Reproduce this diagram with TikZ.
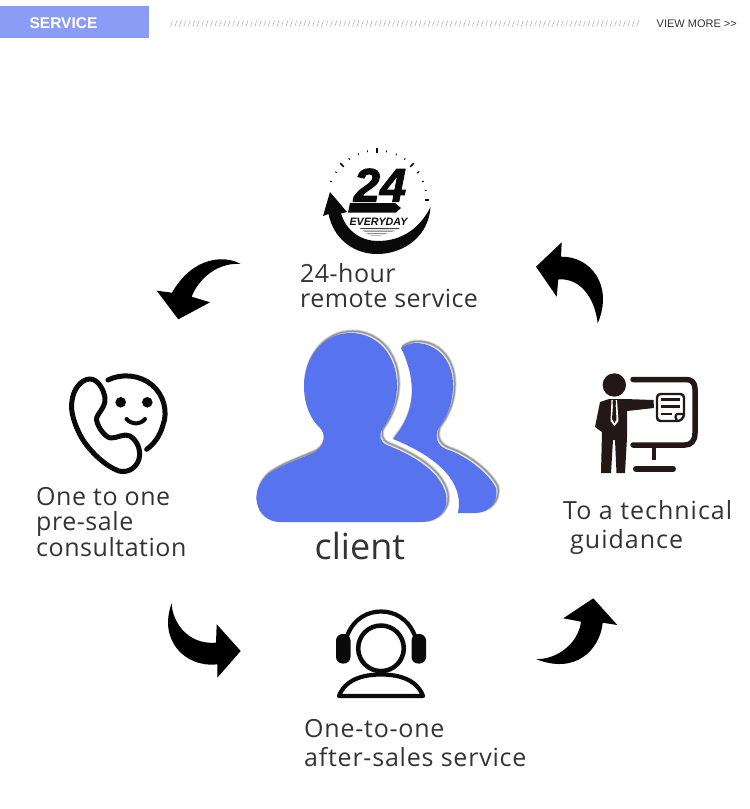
\documentclass[tikz,border=0pt]{standalone}
\usepackage{fontspec}
\setmainfont{Open Sans}
\newfontfamily\hdr{Liberation Sans}
\newfontfamily\heavy[BoldItalicFeatures={FakeBold=2.2}]{Liberation Sans}
\newfontfamily\lsA[LetterSpace=1.8]{Open Sans}
\newfontfamily\lsB[LetterSpace=2.2]{Open Sans}
\newfontfamily\lsC[LetterSpace=3.1]{Open Sans}
\newfontfamily\lsD[LetterSpace=4]{Open Sans}
\definecolor{hdrblue}{HTML}{8A9CF5}
\definecolor{userblue}{HTML}{5873EE}
\definecolor{txt}{HTML}{333333}
\definecolor{ink}{HTML}{0A0A0A}
\definecolor{pres}{HTML}{231815}
\tikzset{
  lbl/.style={anchor=base west,inner sep=0pt,text=txt},
  bigarrow/.style={fill=black,draw=none},
  icon/.style={draw=ink,line width=5pt,line cap=round,line join=round},
}
\newcommand{\fsz}{\fontsize{25}{25}\selectfont}
\newcommand{\frontshape}{(351,333) .. controls (378,333) and (397,356) .. (397,385)
  .. controls (397,403) and (390,418) .. (383,428)
  .. controls (378,435) and (380,442) .. (387,445)
  .. controls (410,454) and (430,466) .. (440,481)
  .. controls (448,493) and (449,505) .. (441,514)
  .. controls (436,520) and (430,522) .. (420,522)
  -- (280,522) .. controls (268,522) and (259,514) .. (257,503)
  .. controls (255,495) and (258,483) .. (267,475)
  .. controls (280,465) and (300,459) .. (315,452)
  .. controls (325,445) and (326,434) .. (320,428)
  .. controls (311,420) and (304,405) .. (304,386)
  .. controls (304,357) and (323,333) .. (351,333) -- cycle}
\newcommand{\backshape}{(401,348) .. controls (408,343) and (416,342) .. (424,344)
  .. controls (442,348) and (453,365) .. (453,385)
  .. controls (453,405) and (446,418) .. (438,429)
  .. controls (435,437) and (437,445) .. (446,449)
  .. controls (465,455) and (488,472) .. (496,488)
  .. controls (499,503) and (488,513) .. (475,513)
  -- (458,513) .. controls (463,490) and (450,462) .. (393,439)
  .. controls (405,425) and (424,395) .. (401,348) -- cycle}
\begin{document}
\begin{tikzpicture}[x=1pt,y=-1pt]
\useasboundingbox (0,0) rectangle (750,809);
% header
\fill[hdrblue] (0,6) rectangle (149,38);
\node[anchor=base,inner sep=0pt,text=white,font=\hdr\bfseries\fontsize{15.5}{16}\selectfont] (service) at (63.5,28) {SERVICE};
\foreach \i in {0,...,105}{
  \draw[black!35,line width=.45pt] ({170.5+4.44*\i},26.5) -- ({172.5+4.44*\i},20.5);
}
\node[anchor=base east,inner sep=0pt,text=txt,font=\hdr\fontsize{11}{11}\selectfont] (more) at (737,27) {VIEW MORE >>};

% 24 icon
\fill[ink] (430.5,207) .. controls (429,235) and (405,254) .. (377,254)
  .. controls (352,254) and (333,237) .. (328.5,214)
  -- (323,216) -- (330,192) -- (347,212) -- (341,213.5)
  .. controls (346,230) and (360,241) .. (378,241)
  .. controls (402,241) and (420,228) .. (430.5,207) -- cycle;
\foreach \a/\l/\w in {0/4/1.4,11/2/.7,22/2/.9,34/3/1,45/5/1.5,56/2/.8,67/2/.8,79/2/.9,90/5/1.5,101/2/.8,112/2/.8,124/2/.9,135/5/1.5,146/2/.8,158/2/.9}{
  \draw[ink,line width=\w pt] ({377+(49.5-\l/2)*cos(\a)},{200-(49.5-\l/2)*sin(\a)}) -- ({377+(49.5+\l/2)*cos(\a)},{200-(49.5+\l/2)*sin(\a)});
}
\node[anchor=base,inner sep=0pt,text=ink,font=\heavy\bfseries\itshape\fontsize{47}{47}\selectfont] (num) at (380,201.5) {24};
\fill[ink] (350,203) -- (395,203) -- (401,208) -- (396,212.5) -- (348,212.5) -- cycle;
\node[anchor=base,inner sep=0pt,text=ink,font=\hdr\bfseries\itshape\fontsize{10.7}{11}\selectfont] (every) at (378.5,225.5) {EVERYDAY};
\fill[black!75] (360,228) -- (400,228) -- (398,229.2) -- (361,229.2) -- cycle;
\fill[black!60] (363,230.5) -- (395,230.5) -- (392,231.7) -- (364,231.7) -- cycle;
\fill[black!45] (366,233) -- (388,233) -- (385,234) -- (368,234) -- cycle;
\fill[black!25] (370,235.2) -- (382,235.2) -- (379,236.2) -- (372,236.2) -- cycle;

% curved arrows
\fill[bigarrow] (240.7,264) .. controls (225,255) and (193,256) .. (172,292.7)
  -- (156.7,290.7) -- (178.3,319.3) -- (210,302.3) -- (191.7,296.7)
  .. controls (197,282) and (215,262) .. (240.7,264) -- cycle;
\fill[bigarrow] (536,266.7) -- (561.7,242.3) -- (561,256.7)
  .. controls (590,256) and (614,285) .. (597.7,323.3)
  .. controls (595,300) and (582,278) .. (558.3,279.3)
  -- (556.7,296.7) -- cycle;
\fill[bigarrow] (171.7,603.3) .. controls (172,620) and (186,645) .. (216,642.7)
  -- (216.7,624.3) -- (240.7,651) -- (217.3,677.7) -- (217.3,664.3)
  .. controls (185,668) and (158,640) .. (171.7,603.3) -- cycle;
\fill[bigarrow] (536,659) .. controls (555,660) and (578,645) .. (581,621.7)
  -- (563.3,618.3) -- (593.3,598.3) -- (617.3,625) -- (602.7,622.7)
  .. controls (600,650) and (575,675) .. (536,659) -- cycle;

% users with soft edge
\begin{scope}[shift={(1.8,-1.8)}]
  \foreach \w/\o in {4/.07,3/.10,2/.14,1/.2}{
    \draw[black,line width=\w pt,opacity=\o,line join=round] \backshape;
  }
\end{scope}
\fill[userblue] \backshape;
\begin{scope}[shift={(1.8,-1.8)}]
  \foreach \w/\o in {4/.07,3/.10,2/.14,1/.2}{
    \draw[black,line width=\w pt,opacity=\o,line join=round] \frontshape;
  }
\end{scope}
\fill[userblue] \frontshape;
\node[lbl,font=\fontsize{36}{36}\selectfont] (client) at (314.5,559) {client};

% phone icon
\draw[icon] (90,379) .. controls (98,379) and (104,390) .. (105,398)
  .. controls (106,408) and (96,414) .. (96.5,420)
  .. controls (98,428) and (106,438) .. (111,438)
  .. controls (118,438) and (124,433) .. (130,436)
  .. controls (138,441) and (141,451) .. (139,459)
  .. controls (136,469) and (127,473) .. (119,471)
  .. controls (105,466) and (91,452) .. (83,440)
  .. controls (74,425) and (70,410) .. (72,401)
  .. controls (73,390) and (81,379) .. (90,379) -- cycle;
\draw[icon] (108,380) .. controls (122,373) and (140,375) .. (152,385)
  .. controls (164,395) and (168,412) .. (163,425)
  .. controls (160,436) and (154,444) .. (146.7,449.3);
\fill[ink] (120.7,402.3) circle (5.3);
\fill[ink] (147.3,402.3) circle (5.3);
\draw[icon,line width=4pt] (126.5,419) .. controls (132,425) and (140,425) .. (145,419);

% presenter icon
\fill[pres] (614.3,385) circle (11.7);
\fill[pres] (600,402) -- (609,399) -- (625,399) -- (653.5,400) -- (654,408) -- (627,411) -- (627,438) -- (625,473) -- (616.5,473) -- (615,440) -- (613,440) -- (611,473) -- (601,473) -- (602,432) -- (595,427) -- cycle;
\fill[white] (611.5,400) -- (617,400) -- (618.5,421) -- (614.5,426) -- (610.5,421) -- cycle;
\fill[pres] (613,400) -- (615.5,400) -- (616,403) -- (615.6,405) -- (616.5,419) -- (614.5,423) -- (612,419) -- (613,405) -- (612.5,403) -- cycle;
\draw[pres,line width=5.5pt,line cap=round,line join=round] (633,379.5) -- (686,379.5) .. controls (692,379.5) and (695,383) .. (695,389) -- (695,433) .. controls (695,441) and (691,445) .. (685,445) -- (633,445);
\draw[pres,line width=4.5pt] (654,446) -- (654,460);
\draw[pres,line width=6pt,line cap=round] (636,469) -- (673,469);
\draw[pres,line width=2.4pt,line join=round,line cap=round] (661,394) -- (680,394) .. controls (683,394) and (684,395) .. (684,398) -- (684,413) .. controls (684,420) and (679,421) .. (677,421) -- (661,421) .. controls (658,421) and (657,420) .. (657,417) -- (657,398) .. controls (657,395) and (658,394) .. (661,394) -- cycle;
\draw[pres,line width=2.2pt] (661,399.5) -- (680,399.5) (661,406.5) -- (680,406.5) (661,414) -- (672,414);
\draw[pres,line width=2.2pt] (684,414) -- (677,414) .. controls (675,415) and (675,419) .. (677,421);

% headset icon
\draw[ink,line width=4.5pt] (381,648.3) circle (22.8);
\draw[ink,line width=4.2pt,line join=round] (339,696) .. controls (345,680) and (362,674.5) .. (381,674.5) .. controls (400,674.5) and (417,680) .. (423,696) -- cycle;
\draw[ink,line width=4.2pt] (347,636) .. controls (354,618) and (368,611.5) .. (381,611.5) .. controls (394,611.5) and (408,618) .. (415,636);
\fill[ink,rounded corners=6.5pt] (336,634) rectangle (350.5,663.5);
\fill[ink,rounded corners=6.5pt] (411.5,634) rectangle (426,663.5);

% labels
\node[lbl,font=\lsA\fsz] (a1) at (300,282) {24-hour};
\node[lbl,font=\lsA\fsz] (a2) at (300,307) {remote service};
\node[lbl,font=\lsB\fsz] (b1) at (36,505) {One to one};
\node[lbl,font=\lsB\fsz] (b2) at (36,530) {pre-sale};
\node[lbl,font=\lsB\fsz] (b3) at (36,556) {consultation};
\node[lbl,font=\lsD\fsz] (c1) at (563,519) {To a technical};
\node[lbl,font=\lsD\fsz] (c2) at (570,548) {guidance};
\node[lbl,font=\lsC\fsz] (d1) at (304,737) {One-to-one};
\node[lbl,font=\lsC\fsz] (d2) at (304,766) {after-sales service};
\end{tikzpicture}
\end{document}
